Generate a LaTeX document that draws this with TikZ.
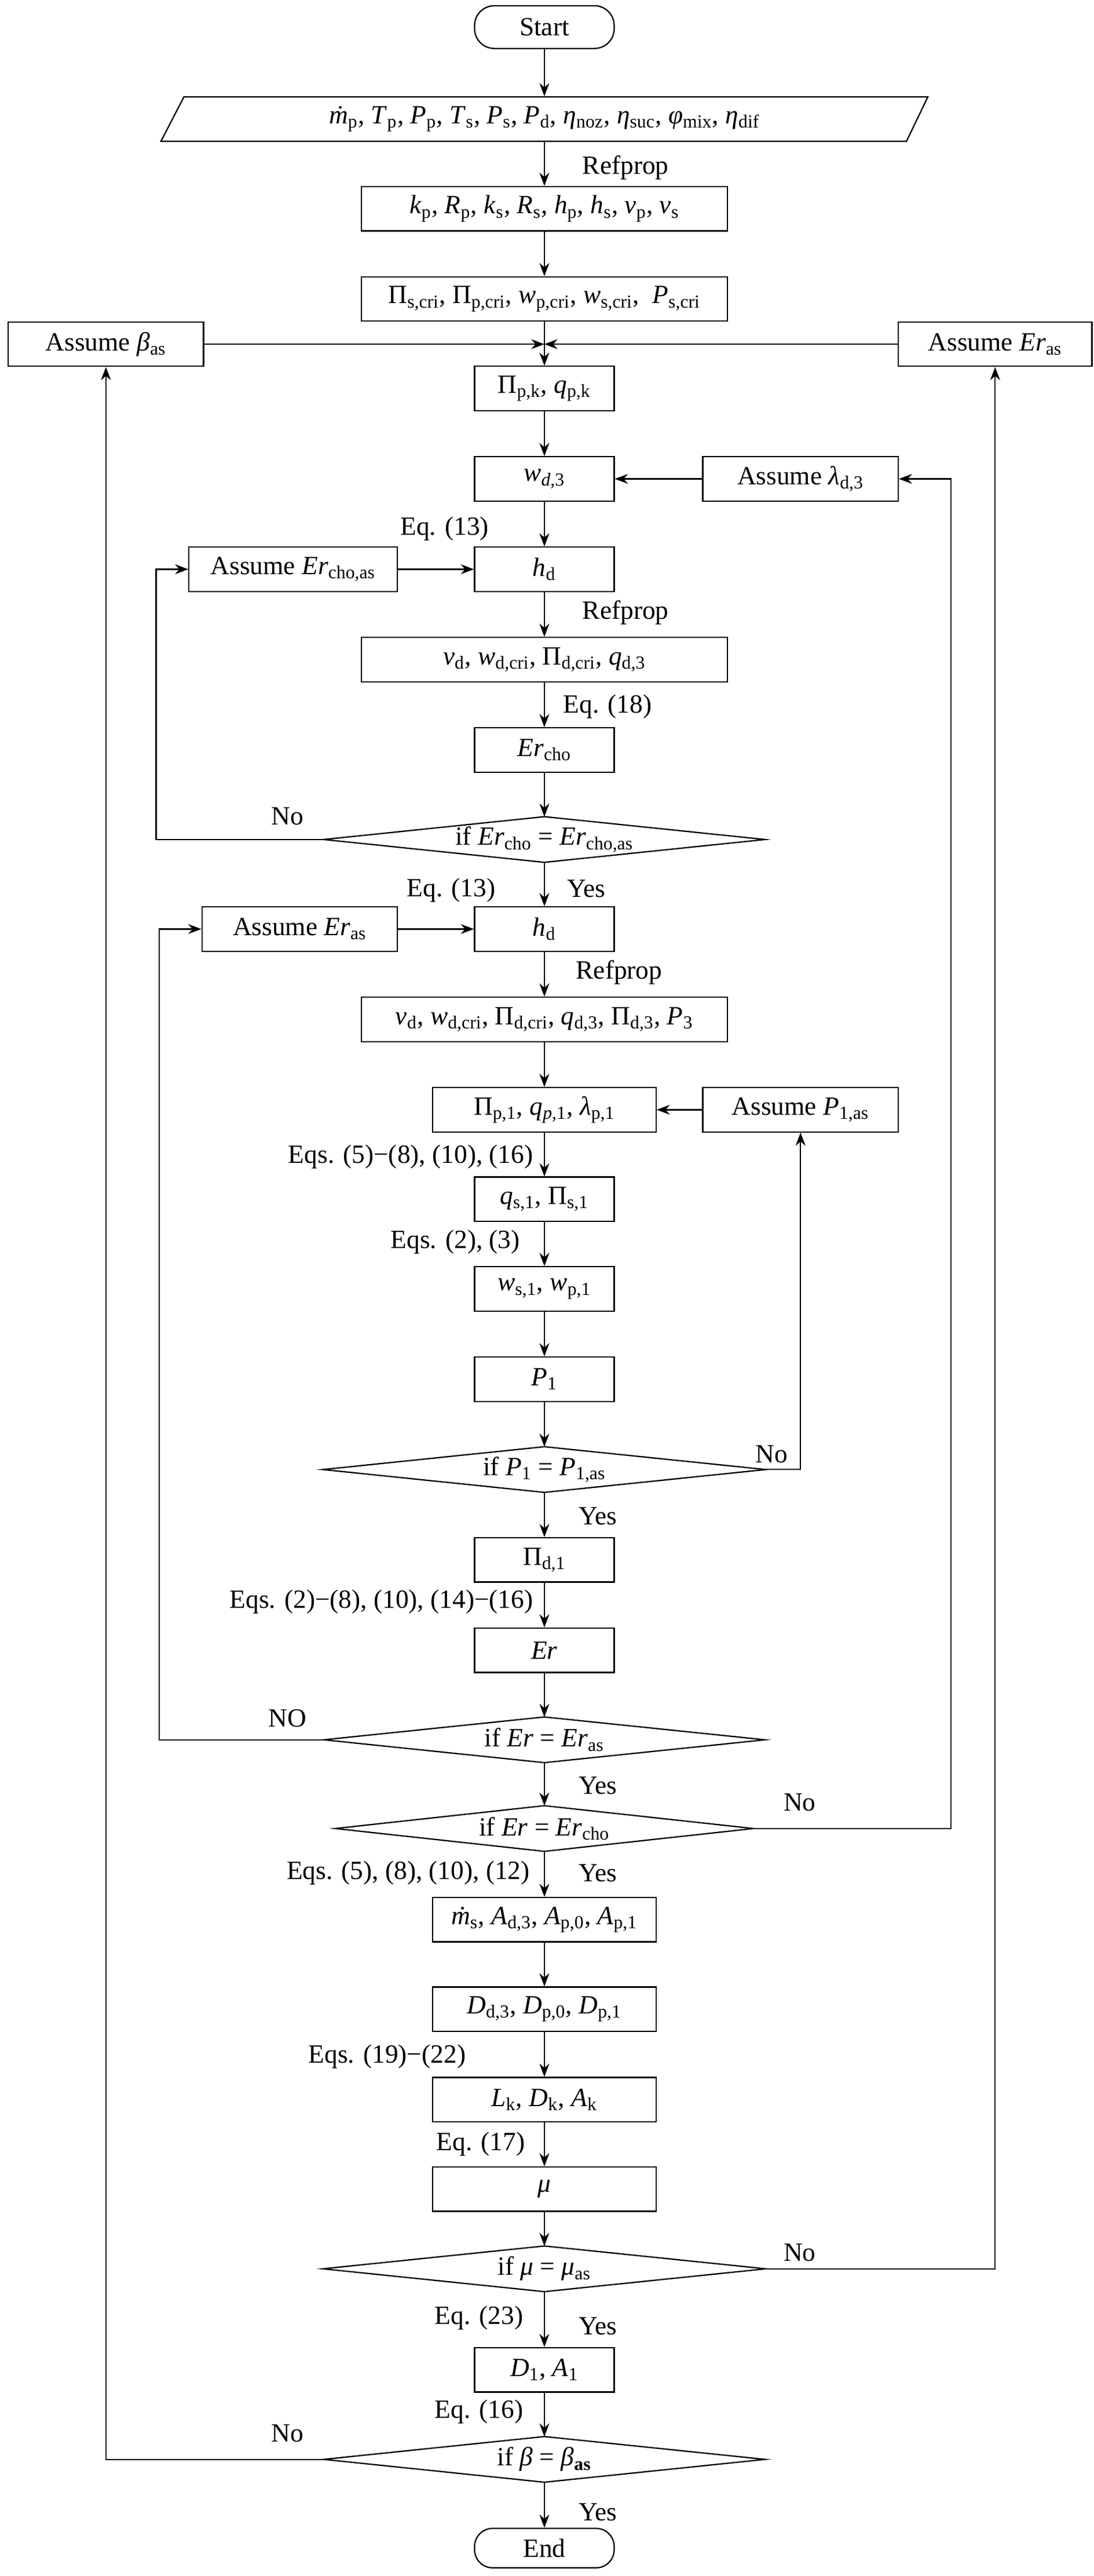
\documentclass[tikz,border=0pt]{standalone}
\usepackage{fontspec}
\setmainfont{Liberation Serif}
\usetikzlibrary{arrows.meta}
\newcommand\V[2]{\textit{#1}\textsubscript{#2}}
\newcommand\mydia[4]{%
  \node[minimum width=#3pt, minimum height=27pt, inner sep=0pt] (#1) at (#2) {#4};
  \draw (#1.west) -- (#1.north) -- (#1.east) -- (#1.south) -- cycle;}
\begin{document}
\begin{tikzpicture}[x=1pt,y=-1pt,font=\fontsize{16}{18}\selectfont,
  line width=0.8pt, >={Stealth[length=8pt,width=6pt]},
  box/.style={draw, minimum height=27pt, inner sep=1pt},
  term/.style={draw, rounded corners=12pt, minimum height=26pt, minimum width=85pt},
  lab/.style={inner sep=0pt}]
\useasboundingbox (0,0) rectangle (666,1568);
\node[term] (start) at (331.5,16.5) {Start};
\node[minimum width=440pt, minimum height=27pt, inner sep=0pt] (in) at (331.5,72.5)
  {\V{\.{m}}{p}, \V{T}{p}, \V{P}{p}, \V{T}{s}, \V{P}{s}, \V{P}{d}, \V{η}{noz}, \V{η}{suc}, \V{φ}{mix}, \V{η}{dif}};
\draw (112,59) -- (565,59) -- (552,86) -- (98,86) -- cycle;
\node[box, minimum width=223pt] (kp) at (331.5,127) {\V{k}{p}, \V{R}{p}, \V{k}{s}, \V{R}{s}, \V{h}{p}, \V{h}{s}, \V{v}{p}, \V{v}{s}};
\node[box, minimum width=223pt] (pis) at (331.5,182) {Π\textsubscript{s,cri}, Π\textsubscript{p,cri}, \V{w}{p,cri}, \V{w}{s,cri}, \ \V{P}{s,cri}};
\node[box, minimum width=119pt] (beta) at (64.5,209.5) {Assume \V{β}{as}};
\node[box, minimum width=118pt] (erasR) at (606,209.5) {Assume \V{Er}{as}};
\coordinate (merge) at (331.5,209.5);
\node[box, minimum width=85pt] (pik) at (331.5,236.5) {Π\textsubscript{p,k}, \V{q}{p,k}};
\node[box, minimum width=85pt] (wd3) at (331.5,291.5) {\textit{w}\textsubscript{\textit{d},3}};
\node[box, minimum width=119pt] (lam) at (487.5,291.5) {Assume \V{λ}{d,3}};
\node[box, minimum width=127pt] (erchoas) at (178.5,346.5) {Assume \V{Er}{cho,as}};
\node[box, minimum width=85pt] (hd1) at (331.5,346.5) {\V{h}{d}};
\node[box, minimum width=223pt] (vd1) at (331.5,401.5) {\V{v}{d}, \V{w}{d,cri}, Π\textsubscript{d,cri}, \V{q}{d,3}};
\node[box, minimum width=85pt] (ercho) at (331.5,456.5) {\V{Er}{cho}};
\mydia{d1}{331.5,511}{268}{if \V{Er}{cho} = \V{Er}{cho,as}}
\node[box, minimum width=119pt] (erasL) at (182.5,565.5) {Assume \V{Er}{as}};
\node[box, minimum width=85pt] (hd2) at (331.5,565.5) {\V{h}{d}};
\node[box, minimum width=223pt] (vd2) at (331.5,620.5) {\V{v}{d}, \V{w}{d,cri}, Π\textsubscript{d,cri}, \V{q}{d,3}, Π\textsubscript{d,3}, \V{P}{3}};
\node[box, minimum width=136pt] (pip1) at (331.5,675.5) {Π\textsubscript{p,1}, \textit{q}\textsubscript{\textit{p},1}, \V{λ}{p,1}};
\node[box, minimum width=119pt] (p1as) at (487.5,675.5) {Assume \V{P}{1,as}};
\node[box, minimum width=85pt] (qs1) at (331.5,730) {\V{q}{s,1}, Π\textsubscript{s,1}};
\node[box, minimum width=85pt] (ws1) at (331.5,784.5) {\V{w}{s,1}, \V{w}{p,1}};
\node[box, minimum width=85pt] (p1) at (331.5,839.5) {\V{P}{1}};
\mydia{d2}{331.5,894.5}{269}{if \V{P}{1} = \V{P}{1,as}}
\node[box, minimum width=85pt] (pid1) at (331.5,949.5) {Π\textsubscript{d,1}};
\node[box, minimum width=85pt] (er) at (331.5,1004.5) {\textit{Er}};
\mydia{d3}{331.5,1059}{268}{if \textit{Er} = \V{Er}{as}}
\mydia{d4}{331.5,1113}{254}{if \textit{Er} = \V{Er}{cho}}
\node[box, minimum width=136pt] (ms) at (331.5,1168.5) {\V{\.{m}}{s}, \V{A}{d,3}, \V{A}{p,0}, \V{A}{p,1}};
\node[box, minimum width=136pt] (dd) at (331.5,1223) {\V{D}{d,3}, \V{D}{p,0}, \V{D}{p,1}};
\node[box, minimum width=136pt] (lk) at (331.5,1278) {\V{L}{k}, \V{D}{k}, \V{A}{k}};
\node[box, minimum width=136pt] (mu) at (331.5,1332.5) {\textit{μ}};
\mydia{d5}{331.5,1381}{269}{if \textit{μ} = \V{μ}{as}}
\node[box, minimum width=85pt] (d1a1) at (331.5,1442.5) {\V{D}{1}, \V{A}{1}};
\mydia{d6}{331.5,1497}{268}{if \textit{β} = \textit{β}\textsubscript{\textbf{as}}}
\node[term, minimum height=24pt, rounded corners=11pt] (end) at (331.5,1551) {End};
% labels
\node[lab] (l1) at (381,102) {Refprop};
\node[lab, anchor=east] (l2) at (298,322) {Eq. (13)};
\node[lab] (l3) at (381,373) {Refprop};
\node[lab] (l4) at (370,430) {Eq. (18)};
\node[lab] (l5) at (175,497) {No};
\node[lab, anchor=east] (l6) at (302,542) {Eq. (13)};
\node[lab] (l7) at (357,541) {Yes};
\node[lab] (l8) at (377,592) {Refprop};
\node[lab, anchor=east] (l9) at (325,704) {Eqs. (5)−(8), (10), (16)};
\node[lab, anchor=east] (l10) at (317,756) {Eqs. (2), (3)};
\node[lab] (l11) at (470,885) {No};
\node[lab] (l12) at (364,923) {Yes};
\node[lab, anchor=east] (l13) at (325,975) {Eqs. (2)−(8), (10), (14)−(16)};
\node[lab] (l14) at (175,1046) {NO};
\node[lab] (l15) at (364,1087) {Yes};
\node[lab] (l16) at (487,1097) {No};
\node[lab, anchor=east] (l17) at (323,1140) {Eqs. (5), (8), (10), (12)};
\node[lab] (l18) at (364,1140) {Yes};
\node[lab, anchor=east] (l19) at (284,1252) {Eqs. (19)−(22)};
\node[lab, anchor=east] (l20) at (320,1305) {Eq. (17)};
\node[lab] (l21) at (487,1371) {No};
\node[lab, anchor=east] (l22) at (319,1411) {Eq. (23)};
\node[lab] (l23) at (364,1416) {Yes};
\node[lab, anchor=east] (l24) at (319,1468) {Eq. (16)};
\node[lab] (l25) at (175,1481) {No};
\node[lab] (l26) at (364,1529) {Yes};
% connectors
\draw[->] (start) -- (in);
\draw[->] (in) -- (kp);
\draw[->] (kp) -- (pis);
\draw[->] (pis) -- (pik);
\draw[->] (beta) -- (merge);
\draw[->] (erasR) -- (merge);
\draw[->] (pik) -- (wd3);
\draw[->] (lam) -- (wd3);
\draw[->] (wd3) -- (hd1);
\draw[->] (erchoas) -- (hd1);
\draw[->] (hd1) -- (vd1);
\draw[->] (vd1) -- (ercho);
\draw[->] (ercho) -- (d1);
\draw[->] (d1.west) -| (95,346.5) -- (erchoas.west);
\draw[->] (d1) -- (hd2);
\draw[->] (erasL) -- (hd2);
\draw[->] (hd2) -- (vd2);
\draw[->] (vd2) -- (pip1);
\draw[->] (p1as) -- (pip1);
\draw[->] (pip1) -- (qs1);
\draw[->] (qs1) -- (ws1);
\draw[->] (ws1) -- (p1);
\draw[->] (p1) -- (d2);
\draw[->] (d2.east) -| (p1as.south);
\draw[->] (d2) -- (pid1);
\draw[->] (pid1) -- (er);
\draw[->] (er) -- (d3);
\draw[->] (d3.west) -| (97,565.5) -- (erasL.west);
\draw[->] (d3) -- (d4);
\draw[->] (d4.east) -| (579,291.5) -- (lam.east);
\draw[->] (d4) -- (ms);
\draw[->] (ms) -- (dd);
\draw[->] (dd) -- (lk);
\draw[->] (lk) -- (mu);
\draw[->] (mu) -- (d5);
\draw[->] (d5.east) -| (erasR.south);
\draw[->] (d5) -- (d1a1);
\draw[->] (d1a1) -- (d6);
\draw[->] (d6.west) -| (beta.south);
\draw[->] (d6) -- (end);
\end{tikzpicture}
\end{document}
